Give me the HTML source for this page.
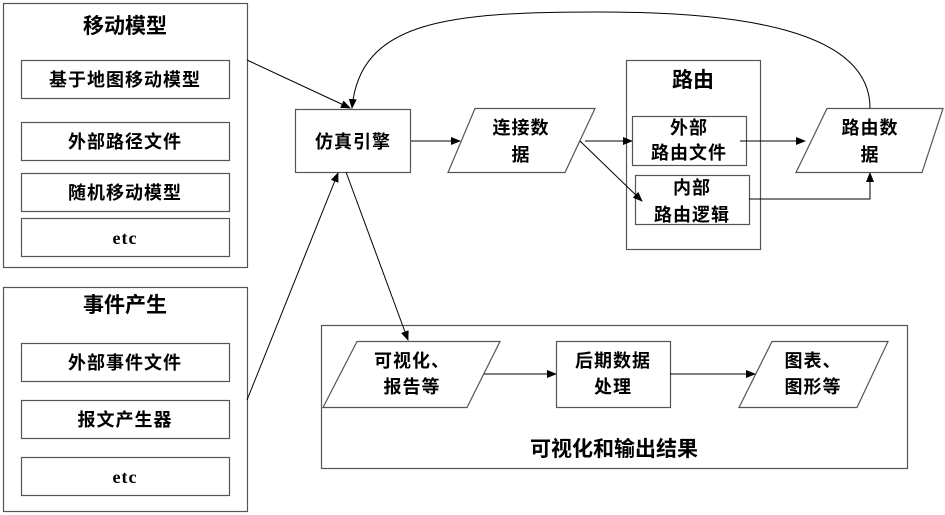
<!DOCTYPE html>
<html><head><meta charset="utf-8"><style>
body{margin:0;background:#fff;}
svg{display:block;}
text{font-family:"Liberation Serif","Noto Sans CJK SC",sans-serif;font-weight:bold;fill:#000;text-anchor:middle;}
</style></head><body>
<svg width="945" height="515" viewBox="0 0 945 515" xmlns="http://www.w3.org/2000/svg">
<defs><marker id="a" markerWidth="10" markerHeight="8" refX="9" refY="4" orient="auto" markerUnits="userSpaceOnUse"><path d="M0,0 L10,4 L0,8 z" fill="#000"/></marker></defs>
<g fill="none" stroke="#555" stroke-width="1.2">
<rect x="3.5" y="3.5" width="244" height="264"/>
<rect x="21.5" y="60.5" width="208" height="38"/>
<rect x="21.5" y="122.5" width="208" height="38"/>
<rect x="21.5" y="173.5" width="208" height="38"/>
<rect x="21.5" y="218.5" width="208" height="38"/>
<rect x="3.5" y="287.5" width="244" height="224"/>
<rect x="21.5" y="343.5" width="208" height="38"/>
<rect x="21.5" y="400.5" width="208" height="38"/>
<rect x="21.5" y="457.5" width="208" height="38"/>
<rect x="295.5" y="109.5" width="115" height="63"/>
<path d="M475,108.5 L595,108.5 L565,172.5 L448,172.5 Z"/>
<rect x="626.5" y="60.5" width="134" height="189"/>
<rect x="632.5" y="116.5" width="114" height="49"/>
<rect x="635.5" y="175.5" width="114" height="49"/>
<path d="M827,108.5 L943,108.5 L922,172.5 L796,172.5 Z"/>
<rect x="321.5" y="325.5" width="586" height="143"/>
<path d="M357,341.5 L500,341.5 L467,407.5 L323,407.5 Z"/>
<rect x="556.5" y="341.5" width="114" height="66"/>
<path d="M772,341.5 L888,341.5 L857,407.5 L739,407.5 Z"/>
</g>
<g fill="none" stroke="#000" stroke-width="1" marker-end="url(#a)">
<line x1="247" y1="60" x2="350" y2="108"/>
<path d="M870,108 C870,30 740,12 600,12 C450,12 360,20 352,108"/>
<line x1="247" y1="400" x2="338" y2="173"/>
<line x1="346" y1="172" x2="408" y2="340"/>
<line x1="411" y1="141" x2="460" y2="141"/>
<line x1="585" y1="141" x2="632" y2="141"/>
<line x1="580" y1="141" x2="642" y2="201"/>
<line x1="740" y1="141" x2="805" y2="141"/>
<path d="M749,199 L870,199 L870,173"/>
<line x1="484" y1="374" x2="556" y2="374"/>
<line x1="670" y1="374" x2="755" y2="374"/>
</g>
<g font-size="21">
<text x="125" y="33">移动模型</text>
<text x="125" y="312">事件产生</text>
<text x="693" y="87">路由</text>
<text x="614" y="456">可视化和输出结果</text>
</g>
<g font-size="18" letter-spacing="1">
<text x="125" y="86">基于地图移动模型</text>
<text x="125" y="148">外部路径文件</text>
<text x="125" y="199">随机移动模型</text>
<text x="125" y="244">etc</text>
<text x="125" y="369">外部事件文件</text>
<text x="125" y="426">报文产生器</text>
<text x="125" y="483">etc</text>
<text x="353" y="148">仿真引擎</text>
<text x="521" y="134">连接数</text>
<text x="521" y="161">据</text>
<text x="689" y="134">外部</text>
<text x="689" y="159">路由文件</text>
<text x="692" y="194">内部</text>
<text x="692" y="221">路由逻辑</text>
<text x="870" y="134">路由数</text>
<text x="870" y="161">据</text>
<text x="412" y="367">可视化、</text>
<text x="412" y="393">报告等</text>
<text x="613" y="367">后期数据</text>
<text x="613" y="393">处理</text>
<text x="813" y="367">图表、</text>
<text x="813" y="393">图形等</text>
</g>
</svg>
</body></html>
